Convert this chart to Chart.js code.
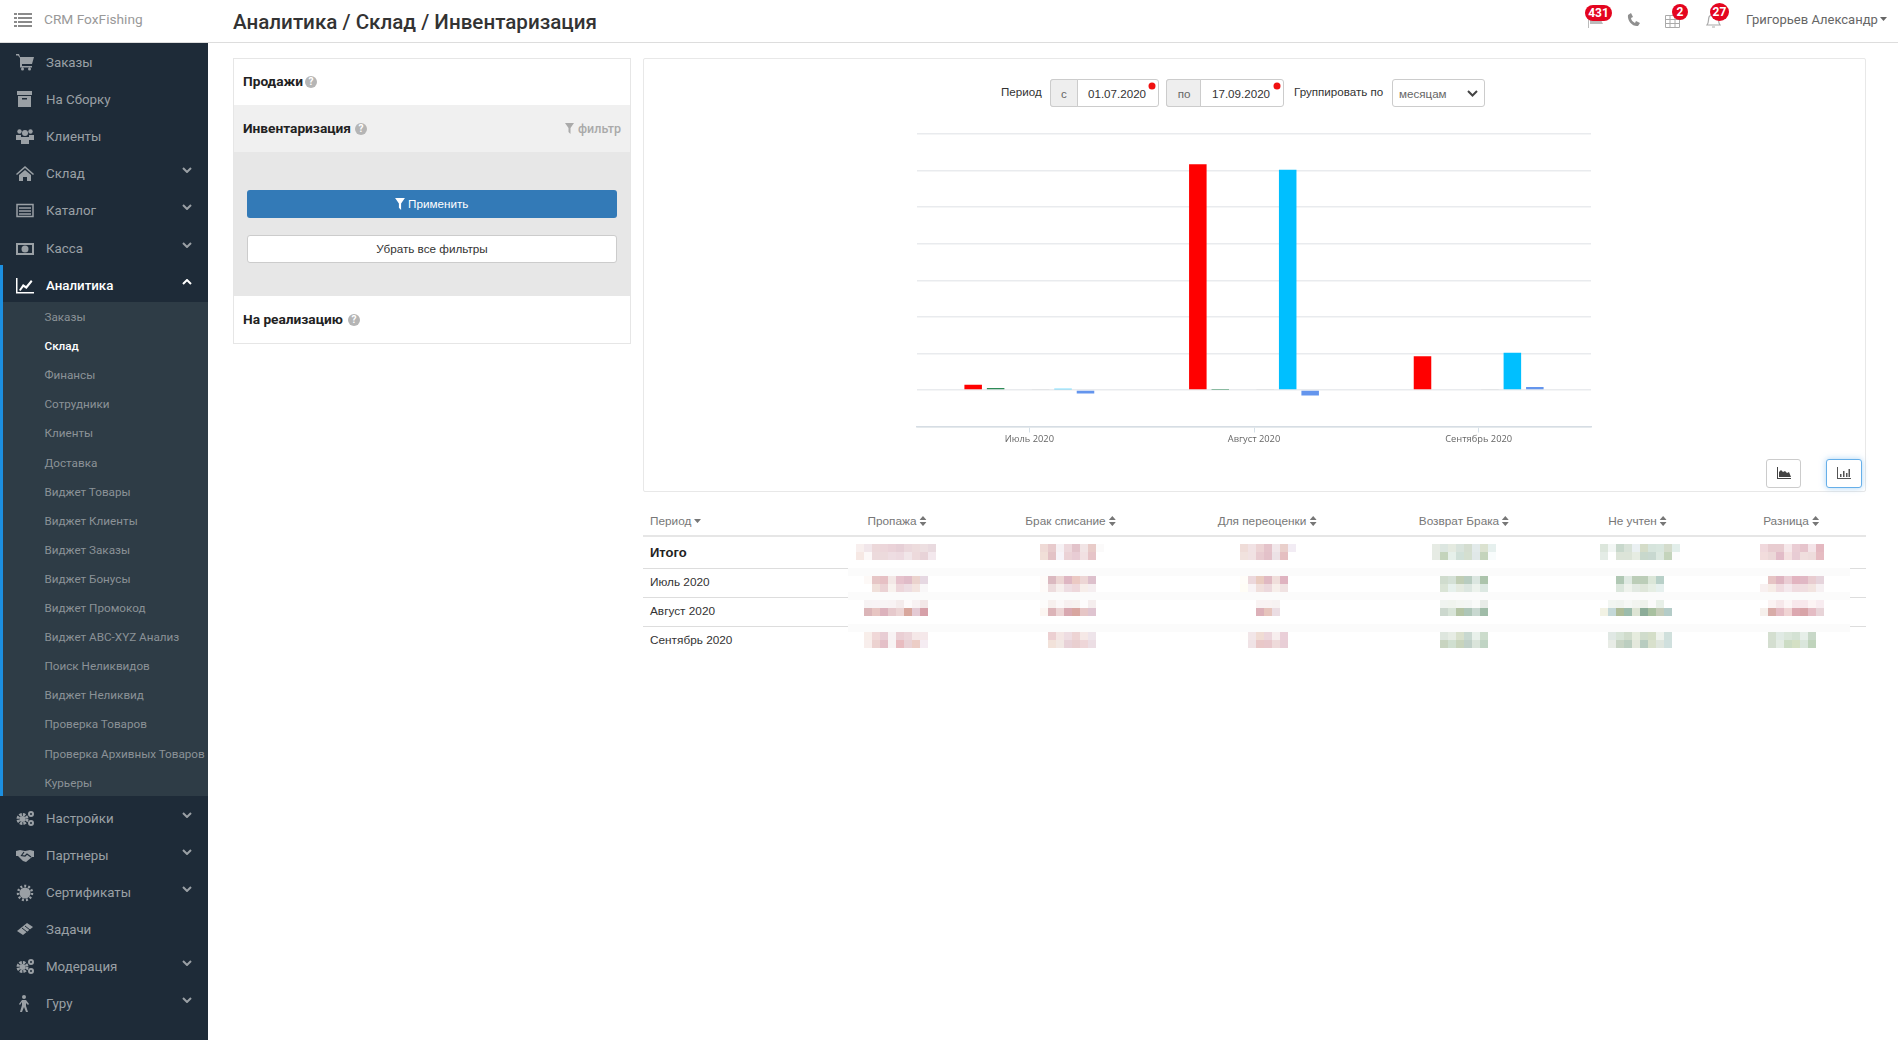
<!DOCTYPE html>
<html lang="ru">
<head>
<meta charset="utf-8">
<title>Аналитика / Склад / Инвентаризация</title>
<script src="https://cdn.jsdelivr.net/npm/chart.js@4"></script>
<style>
html,body{margin:0;padding:0;background:#fff;width:1898px;height:1040px;overflow:hidden;font-family:"Liberation Sans",Arial,sans-serif;color:#333}
.abs{position:absolute;box-sizing:border-box}
.t{position:absolute;white-space:nowrap;line-height:1;transform:translateY(-50%)}
.c{position:absolute;white-space:nowrap;line-height:1;transform:translate(-50%,-50%)}
.r{font-family:Roboto,sans-serif}
svg{display:block}
.ico{position:absolute}
.th{font-size:11.8px;color:#777}
.td{font-size:11.8px;color:#333;left:650px}
.mos{position:absolute;width:8px;height:8px}
.badge{position:absolute;background:#e4051f;color:#fff;font:bold 12px/1 "Roboto",sans-serif;display:flex;align-items:center;justify-content:center}
</style>
</head>
<body>

<!-- верхняя панель -->
<div class="abs" style="left:0;top:42px;width:1898px;height:1px;background:#ddd"></div>
<svg class="ico" style="left:14px;top:13px" width="18" height="14" viewBox="0 0 18 14" fill="#8a8a8a"><path d="M0 0h3v2H0zM4 0h14v2H4zM0 4h3v2H0zM4 4h14v2H4zM0 8h3v2H0zM4 8h14v2H4zM0 12h3v2H0zM4 12h14v2H4z"/></svg>
<div class="t r" style="left:44px;top:20px;font-size:13.7px;color:#999">CRM FoxFishing</div>
<div class="t r" style="left:233px;top:22px;font-size:20.6px;font-weight:500;color:#333">Аналитика / Склад / Инвентаризация</div>

<svg class="ico" style="left:1587px;top:15px" width="18" height="13" viewBox="0 0 18 13" fill="#bbb"><path d="M1 0h1v13H1zM3 1h13l-2 4 2 4H3z"/></svg>
<div class="badge" style="left:1585px;top:5px;width:27px;height:16px;border-radius:8px">431</div>
<svg class="ico" style="left:1627px;top:13px" width="13" height="14" viewBox="0 0 13 14" fill="#8f8f8f"><path d="M1 2l3-2 2 4-2 1c0 2 2 4 4 5l1-2 4 2-2 3C6 14 0 8 1 2z"/></svg>
<svg class="ico" style="left:1665px;top:13px" width="15" height="15" viewBox="0 0 15 15" fill="none" stroke="#aaa"><path d="M.5 2.500h14v12H.5zM.5 6.500h14M.5 10.500h14M5 2.500v12M10 2.500v12"/></svg>
<div class="badge" style="left:1672px;top:4px;width:16px;height:16px;border-radius:50%">2</div>
<svg class="ico" style="left:1706px;top:13px" width="15" height="15" viewBox="0 0 15 15" fill="none" stroke="#aaa" stroke-width="1.200"><path d="M1 12c2-2 1-5 2-8 1-3 8-3 9 0 1 3 0 6 2 8zM6 14h3"/></svg>
<div class="badge" style="left:1710px;top:3px;width:19px;height:18px;border-radius:50%">27</div>
<div class="t r" style="left:1746px;top:19px;font-size:13px;color:#666">Григорьев Александр</div>
<svg class="ico" style="left:1880px;top:17px" width="7" height="4" fill="#666"><path d="M0 0h7L3.500 4z"/></svg>

<!-- боковое меню -->
<div class="abs" style="left:0;top:43px;width:208px;height:997px;background:#1e2b38"></div>
<div class="abs" style="left:2px;top:302px;width:206px;height:494px;background:#2e3c46"></div>
<div class="abs" style="left:0;top:265px;width:2.500px;height:531px;background:#1c8fe0"></div>
<div id="menu"></div>

<!-- левая панель -->
<div class="abs" style="left:233px;top:58px;width:398px;height:286px;border:1px solid #e6e6e6;background:#fff"></div>
<div class="abs" style="left:234px;top:105px;width:396px;height:47px;background:#f0f0f0"></div>
<div class="abs" style="left:234px;top:152px;width:396px;height:144px;background:#e7e7e7"></div>
<div class="t r" style="left:243px;top:81.500px;font-size:13.7px;font-weight:700;color:#222">Продажи</div>
<div class="t r" style="left:243px;top:129px;font-size:13.7px;font-weight:700;color:#222">Инвентаризация</div>
<div class="t r" style="left:243px;top:320px;font-size:13.7px;font-weight:700;color:#222">На реализацию</div>
<div class="c r" style="left:311px;top:81.500px;width:12px;height:12px;border-radius:50%;background:#b5b5b5;color:#fff;font-size:10px;font-weight:700;line-height:12px;text-align:center">?</div>
<div class="c r" style="left:361px;top:128.500px;width:12px;height:12px;border-radius:50%;background:#b5b5b5;color:#fff;font-size:10px;font-weight:700;line-height:12px;text-align:center">?</div>
<div class="c r" style="left:354px;top:319.500px;width:12px;height:12px;border-radius:50%;background:#b5b5b5;color:#fff;font-size:10px;font-weight:700;line-height:12px;text-align:center">?</div>
<svg class="ico" style="left:565px;top:123px" width="9" height="11" viewBox="0 0 9 11" fill="#aaa"><path d="M0 0h9L5.500 5v6l-2-2V5z"/></svg>
<div class="t r" style="left:578px;top:129px;font-size:12.500px;font-weight:500;color:#aaa">фильтр</div>
<div class="abs" style="left:247px;top:190px;width:370px;height:28px;background:#337ab7;border-radius:3px"></div>
<svg class="ico" style="left:395px;top:198px" width="10" height="12" viewBox="0 0 9 11" fill="#fff"><path d="M0 0h9L5.500 5v6l-2-2V5z"/></svg>
<div class="t" style="left:408px;top:204px;font-size:11.7px;color:#fff">Применить</div>
<div class="abs" style="left:247px;top:235px;width:370px;height:28px;background:#fff;border:1px solid #ccc;border-radius:3px"></div>
<div class="c" style="left:432px;top:249px;font-size:11.7px;color:#333">Убрать все фильтры</div>

<!-- карточка с графиком -->
<div class="abs" style="left:643px;top:58px;width:1223px;height:434px;border:1px solid #e8e8e8;border-radius:2px"></div>
<div class="t" style="left:1001px;top:92px;font-size:11.6px;color:#333">Период</div>
<div class="abs" style="left:1050px;top:79px;width:109px;height:28px;border:1px solid #ccc;border-radius:3px;background:#fff"></div>
<div class="abs" style="left:1050px;top:79px;width:28px;height:28px;border:1px solid #ccc;border-radius:3px 0 0 3px;background:#eee"></div>
<div class="c" style="left:1064px;top:94px;font-size:11.6px;color:#666">с</div>
<div class="t" style="left:1088px;top:94px;font-size:11.6px;color:#333">01.07.2020</div>
<div class="c" style="left:1152px;top:85.500px;width:7px;height:7px;border-radius:50%;background:#f01010"></div>
<div class="abs" style="left:1166px;top:79px;width:118px;height:28px;border:1px solid #ccc;border-radius:3px;background:#fff"></div>
<div class="abs" style="left:1166px;top:79px;width:35px;height:28px;border:1px solid #ccc;border-radius:3px 0 0 3px;background:#eee"></div>
<div class="c" style="left:1184px;top:94px;font-size:11.6px;color:#666">по</div>
<div class="t" style="left:1212px;top:94px;font-size:11.6px;color:#333">17.09.2020</div>
<div class="c" style="left:1277px;top:85.500px;width:7px;height:7px;border-radius:50%;background:#f01010"></div>
<div class="t" style="left:1294px;top:92px;font-size:11.6px;color:#333">Группировать по</div>
<div class="abs" style="left:1392px;top:79px;width:93px;height:28px;border:1px solid #ccc;border-radius:3px;background:#fff"></div>
<div class="t" style="left:1399px;top:94px;font-size:11.6px;color:#666">месяцам</div>
<svg class="ico" style="left:1467px;top:90px" width="11" height="7" viewBox="0 0 11 7" fill="none" stroke="#444" stroke-width="2"><path d="M1 1l4.500 4.500L10 1"/></svg>

<div class="abs" style="left:900px;top:120px;width:710px;height:340px"><canvas id="myChart"></canvas></div>

<div class="abs" style="left:1766px;top:459px;width:35px;height:29px;border:1px solid #ccc;border-radius:3px;background:#fff"></div>
<svg class="ico" style="left:1777px;top:467px" width="14" height="12" viewBox="0 0 14 12" fill="#444"><path d="M0 0h1v11h13v1H0zM2 10V5l2-2 2 2 2-1 2 2 2-1 2 5z"/></svg>
<div class="abs" style="left:1826px;top:459px;width:36px;height:29px;border:1px solid #66afe9;border-radius:3px;background:#fff;box-shadow:0 0 6px rgba(102,175,233,.55)"></div>
<svg class="ico" style="left:1837px;top:467px" width="14" height="12" viewBox="0 0 14 12" fill="#555"><path d="M0 0h1v11h13v1H0zM3 7h1.500v3H3zM6 4h1.500v6H6zM9 6h1.500v4H9zM11.500 2H13v8h-1.500z"/></svg>

<!-- таблица -->
<div id="table"></div>

<script>
// Данные графика (шкала без подписей)
const categories = ['Июль 2020', 'Август 2020', 'Сентябрь 2020'];
const propazha = [0.145, 6.17, 0.92];
const brakSpisanie = [0.05, 0.004, 0];
const dlyaPereocenki = [0, 0, 0];
const vozvratBraka = [0.012, 0.015, 0.01];
const neUchten = [0.035, 6.02, 1.02];
const raznica = [-0.10, -0.15, 0.08];

// Меню
const ICONS = {
    cart: '<path fill="currentColor" d="M0 0h3l1 3h14l-2 7H6v2h10v1.500H4V4L2 1.500H0zM5 15a1.500 1.500 0 1 0 3 0 1.500 1.500 0 0 0-3 0zM12 15a1.500 1.500 0 1 0 3 0 1.500 1.500 0 0 0-3 0z"/>',
    box: '<path fill="currentColor" d="M1 0h15v4H1zM2 5h13v11H2z"/><path fill="#1e2b38" d="M6 7h5v1.500H6z"/>',
    users: '<circle fill="currentColor" cx="9" cy="5" r="3"/><circle fill="currentColor" cx="3.500" cy="3.500" r="2.200"/><circle fill="currentColor" cx="14.500" cy="3.500" r="2.200"/><path fill="currentColor" d="M0 7h5v5H0zM13 7h5v5h-5zM5 9h8v7H5z"/>',
    home: '<path fill="currentColor" d="M9 1l9 8-1 1-8-7-8 7-1-1zM3 10l6-5 6 5v6h-4v-4H7v4H3z"/>',
    list: '<path fill="none" stroke="currentColor" stroke-width="1.500" d="M1 2.500h16v12H1zM3 6h12M3 9h12M3 12h12"/>',
    money: '<path fill="none" stroke="currentColor" stroke-width="2" d="M1 4h16v10H1z"/><circle fill="currentColor" cx="9" cy="9" r="3.500"/>',
    chart: '<path fill="currentColor" d="M0 1h1.500v14H18v1.500H0zM3 13l4-6 3 2 5-6 1.500 1.500L10.500 12l-3-2-3 4z"/>',
    gears: '<circle fill="currentColor" cx="6.500" cy="9" r="3"/><circle fill="none" stroke="currentColor" stroke-width="3" stroke-dasharray="2.500 1" cx="6.500" cy="9" r="4.500"/><circle fill="none" stroke="currentColor" stroke-width="2" cx="15" cy="4" r="2"/><circle fill="none" stroke="currentColor" stroke-width="2" cx="15" cy="13" r="2"/>',
    hands: '<path fill="currentColor" d="M0 4l4-1 5 1 5-1 4 1v6l-2 0-6 5-3-1-5-5H0z"/><path fill="none" stroke="#1e2b38" stroke-width="1.200" d="M8 5L5.500 8.500 9 9l2-2 4 3"/>',
    cert: '<circle fill="currentColor" cx="9" cy="9" r="5.500"/><circle fill="none" stroke="currentColor" stroke-width="2.500" stroke-dasharray="2 2" cx="9" cy="9" r="7"/>',
    ticket: '<path fill="currentColor" d="M1 10L11 2l6 4-10 8z"/><path fill="none" stroke="#1e2b38" d="M6 7l5 4M9 5l5 4"/>',
    guru: '<circle fill="currentColor" cx="8" cy="2" r="2"/><path fill="currentColor" d="M6 5h4l3 4-1 1-2-2v3l2 6h-2l-2-5-2 5H4l2-7V7l-2 3-1-1z"/>'
};
const mainItems = [
    ['Заказы', 62.5, 'cart', ''], ['На Сборку', 99.5, 'box', ''], ['Клиенты', 136.5, 'users', ''],
    ['Склад', 173.5, 'home', 'd'], ['Каталог', 210.5, 'list', 'd'], ['Касса', 248.8, 'money', 'd'],
    ['Аналитика', 285.5, 'chart', 'u'], ['Настройки', 819, 'gears', 'd'], ['Партнеры', 856, 'hands', 'd'],
    ['Сертификаты', 893, 'cert', 'd'], ['Задачи', 930, 'ticket', ''], ['Модерация', 967, 'gears', 'd'],
    ['Гуру', 1004, 'guru', 'd']
];
const subItems = ['Заказы', 'Склад', 'Финансы', 'Сотрудники', 'Клиенты', 'Доставка', 'Виджет Товары', 'Виджет Клиенты',
    'Виджет Заказы', 'Виджет Бонусы', 'Виджет Промокод', 'Виджет ABC-XYZ Анализ', 'Поиск Неликвидов', 'Виджет Неликвид',
    'Проверка Товаров', 'Проверка Архивных Товаров', 'Курьеры'];

let menuHtml = '';
mainItems.forEach(function (it) {
    const active = it[0] === 'Аналитика';
    const col = active ? '#fff' : '#9aa0a5';
    menuHtml += '<svg class="ico" style="left:16px;top:' + (it[1] - 9) + 'px;color:' + col + '" width="18" height="18" viewBox="0 0 18 18">' + ICONS[it[2]] + '</svg>';
    menuHtml += '<div class="t r" style="left:46px;top:' + it[1] + 'px;font-size:13.3px;color:' + col + ';font-weight:' + (active ? 500 : 400) + '">' + it[0] + '</div>';
    if (it[3]) {
        const p = it[3] === 'd' ? 'M1 1l4 4 4-4' : 'M1 5l4-4 4 4';
        menuHtml += '<svg class="ico" style="left:182px;top:' + (it[1] - 7) + 'px" width="10" height="6" viewBox="0 0 10 6" fill="none" stroke="' + col + '" stroke-width="2"><path d="' + p + '"/></svg>';
    }
});
subItems.forEach(function (name, i) {
    const cur = name === 'Склад';
    menuHtml += '<div class="t r" style="left:44.500px;top:' + (318 + i * 29.1) + 'px;font-size:11.7px;color:' + (cur ? '#fff' : '#8b9297') + ';font-weight:' + (cur ? 500 : 400) + '">' + name + '</div>';
});
document.getElementById('menu').innerHTML = menuHtml;

// Таблица
const tableHeads = [['Пропажа', 897], ['Брак списание', 1070.5], ['Для переоценки', 1267], ['Возврат Брака', 1464], ['Не учтен', 1637.5], ['Разница', 1791]];
const tableRows = [['Июль 2020', 582.5], ['Август 2020', 611.5], ['Сентябрь 2020', 640.5]];
const rowLines = [[568, 568], [597, 592], [626, 624]];
// Закрытые пикселями суммы: [x, y, верхний ряд, нижний ряд]
const blurCells = [
    [856, 544, 'f8efee f1e6ea ecd8da ecd6da ead2d8 e6cfd6 ebd8dc eddcdd eddfe1 e9dadf', 'f6e8e4 fcf8f8 ecdadc ecdadc eedde2 eddae0 f1e6e9 eddadc e8d3d8 f3e8ed'],
    [1040, 544, 'efdad6 e7cacc f6f1f4 edd8dc e2c3ca f1e4e5 e8cbc8 fbfafa', 'f1dfd8 e3c2c6 f7f4f9 ebd2d6 e8ccd4 f1e0e2 e6c4c8 ffffff'],
    [1240, 544, 'efdcd8 f1e2e4 ecd3d4 e4c3ca f1e7ea e9cfcb f2ecf4', 'f1e2de f1e2e3 e8cbd0 e3c1c9 ece2e6 e5bfc1 ffffff'],
    [1432, 544, 'e6ebe4 dce6e0 e4eae0 d8e3dc d4ddd0 e2eaea dbe2d0 e6f0ee', 'e6ebe4 c4d4bc e6f0ea d0e0d8 d4dfd0 e0e8e8 c4d4bc f8fcfc'],
    [1600, 544, 'dce6dc f2f6f4 c8d8cc d8e2d8 eaf0f2 d4dcc8 d6e4dc d8e6de d4dccc e2eeea', 'e4ece6 ffffff dce4d8 dce4d8 e6ece2 c8d8cc c8d8d0 dce8e0 c4d4bc fcfcfc'],
    [1760, 544, 'f0d8dc e8ccd0 e8ccd0 f6e8ea eacdd4 e6c4cc f4e4e8 e4b8c0', 'f2dcdc ecd8d8 e2bcc8 f4e0e0 e8ccd4 f0dede eedcdc e6bcc2'],

    [864, 576, 'fdf9f7 e6c6c6 e6c0c4 f3e8e6 e6c2cc e0bcc8 ebd3cd e6d8e2', 'ffffff f0e0da ebd2d4 f8f2ee edd6da eddde2 f3e4df f9f7f8'],
    [1040, 576, 'fefbf9 dbb9c0 ecd5d3 deb6c2 ebc9c3 edd6d5 ddc0cc', 'fefbf9 eddcdd f6eeec eedde2 eed7db f7eeea f5eef0'],
    [1240, 576, 'fffdf9 ecd8dc e9cbbf e0b9c2 f0dedb dfb3c0', 'fffdf6 f8f3f5 f0dfdc ecd8dc f7eeea f0e2e2'],
    [1440, 576, 'd0dcce d4e0d6 c0cdb4 b8ccc0 dbe6e0 acc4ac', 'dae4d6 e6f0ec e4eae0 dce6e0 ecf2ec dce8e2'],
    [1616, 576, 'b0c8b4 dfe9e2 bccdb8 bccdb8 dbe6d8 b8d0c8', 'dbe6dc eef2ec e2e9e2 dfe6da e6eee4 e6f0ee'],
    [1760, 576, 'ffffff e6c4c4 deb4c0 eacdd4 e2b4c0 e0b8c4 e8ccd0 e6d4dc', 'f8f0f0 f6ece6 f0dce0 f4e8ec f0dce0 f0dee0 f2e4e0 f6f0f2'],

    [864, 600, 'f7f3f4 f8f3f5 f8f4f5 f8f3f4 f4ecec fdfbfb f8f2f3 f3e8e8', 'dbb5b8 e7c5c2 dcb2bc e6c9cc ecd5d5 d8a79d e4cad4 d6a0a8'],
    [1040, 600, 'fdfcfb f7f0ee fbf8f8 f7f0f0 f7f2f0 fdfcfc f5eeee', 'fcf6f2 dcb4b8 ecd4d4 d8a8b0 d8a6a0 e6c6c6 dfc4d0'],
    [1256, 600, 'f9f3f3 f9f3f3 f7f2f2', 'dcb0b8 e6c4bc ebdde3'],
    [1440, 600, 'f0f4f0 f0f4ee f3f6f2 f3f6f4 f9fbf9 e8ece8', 'ccd8ce d8e4d8 b4c4a4 aec6b8 c8d8d0 a0bca8'],
    [1600, 600, 'ffffff f2f6f2 f0f4f0 f6f8f6 f2f4f0 eef2ec fafafa e8f0e8 ffffff', 'f2f2e4 c4d8d8 aebc98 9cbcac dde4d4 8cac98 a8c0a0 c4ccb8 b4ccc8'],
    [1760, 600, 'ffffff fbf3f3 f6e8ea fcf6f6 f8e8ec f8e8ec fcf4f4 f8ecf0', 'f6f0ec d8aca8 e4bcc4 f0d4d4 dca8b0 d8a4a8 e4bcc4 e8d4d8'],

    [864, 632, 'f8eeea f0d8d8 e8cdd4 f8f3f4 eacfd4 ecd6da f5e8e8 f5e8ea', 'f8eeec ecd2d0 e4c0c8 f8f4f4 e8bcc0 e9d2d6 eccdc6 f5ecf2'],
    [1048, 632, 'ecd0d2 f4e6e4 eedde2 edd4d4 f5e8e6 eee4ea', 'f2e2da f2e8e4 e8d2d8 e9cfd0 eed6d8 ecdee4'],
    [1240, 632, 'fffefc f2e6e8 f0dcd4 ecd6dc f7eeee eacfd8', 'ffffff f0e3e6 e9c8c8 e8c8cc eedada e8ced6'],
    [1440, 632, 'dee6de e6ece4 d8e0cc c8d8d0 e8f0ea ccdccc', 'c8d4c0 d0dfd0 c8d4bc c0d0c8 dae4da c0d4c4'],
    [1608, 632, 'e0e8e4 d8e4d8 d0dccc e6ecde d0dccc d4dec8 eef2ec d0e0dc', 'e8ece6 c8d4c4 bccec0 e4e8dc b8ccc0 d8e0cc dfe6de d0e0de'],
    [1768, 632, 'd4dfd0 e0eae4 dae6da d4e2d4 e6eee8 c8d8c8', 'd4ded0 e4ece4 ccdcc4 d4e0c4 dae6dc c0d4bc']
];

const sortIcon = '<svg style="display:inline-block;margin-left:3px;vertical-align:-1px" width="7" height="10" viewBox="0 0 7 10" fill="#777"><path d="M3.500 0L7 4H0zM3.500 10L0 6h7z"/></svg>';
let tableHtml = '<div class="t th" style="left:650px;top:521.5px">Период<svg style="display:inline-block;margin-left:3px;vertical-align:2px" width="7" height="4" fill="#777"><path d="M0 0h7L3.500 4z"/></svg></div>';
tableHeads.forEach(function (h) {
    tableHtml += '<div class="c th" style="left:' + h[1] + 'px;top:521.5px">' + h[0] + sortIcon + '</div>';
});
tableHtml += '<div class="abs" style="left:643px;top:535px;width:1223px;height:2px;background:#e6e6e6"></div>';
tableHtml += '<div class="t td" style="top:552px;font-size:13px;font-weight:bold;color:#222">Итого</div>';
rowLines.forEach(function (l) {
    tableHtml += '<div class="abs" style="left:643px;top:' + l[0] + 'px;width:1223px;height:1px;background:#ddd"></div>';
    tableHtml += '<div class="abs" style="left:848px;top:' + l[1] + 'px;width:1002px;height:8px;background:#fbfbfb"></div>';
});
tableRows.forEach(function (r) {
    tableHtml += '<div class="t td" style="top:' + r[1] + 'px">' + r[0] + '</div>';
});
blurCells.forEach(function (cell) {
    [cell[2], cell[3]].forEach(function (row, ry) {
        row.split(' ').forEach(function (col, i) {
            tableHtml += '<div class="mos" style="left:' + (cell[0] + i * 8) + 'px;top:' + (cell[1] + ry * 8) + 'px;background:#' + col + '"></div>';
        });
    });
});
document.getElementById('table').innerHTML = tableHtml;

// График
const ctx = document.getElementById('myChart').getContext('2d');
new Chart(ctx, {
    type: 'bar',
    data: {
        labels: categories,
        datasets: [
            { label: 'Пропажа', data: propazha, backgroundColor: '#ff0000' },
            { label: 'Брак списание', data: brakSpisanie, backgroundColor: '#2e8b57' },
            { label: 'Для переоценки', data: dlyaPereocenki, backgroundColor: '#bdbdbd' },
            { label: 'Возврат Брака', data: vozvratBraka, backgroundColor: '#d3d3d3' },
            { label: 'Не учтен', data: neUchten, backgroundColor: '#00bfff' },
            { label: 'Разница', data: raznica, backgroundColor: '#6495ed' }
        ]
    },
    options: {
        responsive: true,
        maintainAspectRatio: false,
        animation: false,
        layout: { padding: { left: 17, right: 19, top: 14, bottom: 0 } },
        categoryPercentage: 0.6,
        barPercentage: 0.78,
        plugins: { legend: { display: false }, tooltip: { enabled: false } },
        scales: {
            x: {
                afterFit: function (scale) { scale.height = 33.5; },
                grid: { offset: false, drawOnChartArea: false, drawTicks: true, tickLength: 6, color: '#d5e0e8' },
                border: { color: '#d6dde4', width: 1.5 },
                ticks: { color: '#666', padding: 1, maxRotation: 0, font: { family: 'Open Sans', size: 9.3 } }
            },
            y: {
                min: -1,
                max: 7,
                afterFit: function (scale) { scale.width = 0; },
                grid: { color: '#e9ebee', lineWidth: 1.5, drawTicks: false },
                border: { display: false },
                ticks: { display: false, stepSize: 1 }
            }
        }
    }
});
</script>
</body>
</html>
